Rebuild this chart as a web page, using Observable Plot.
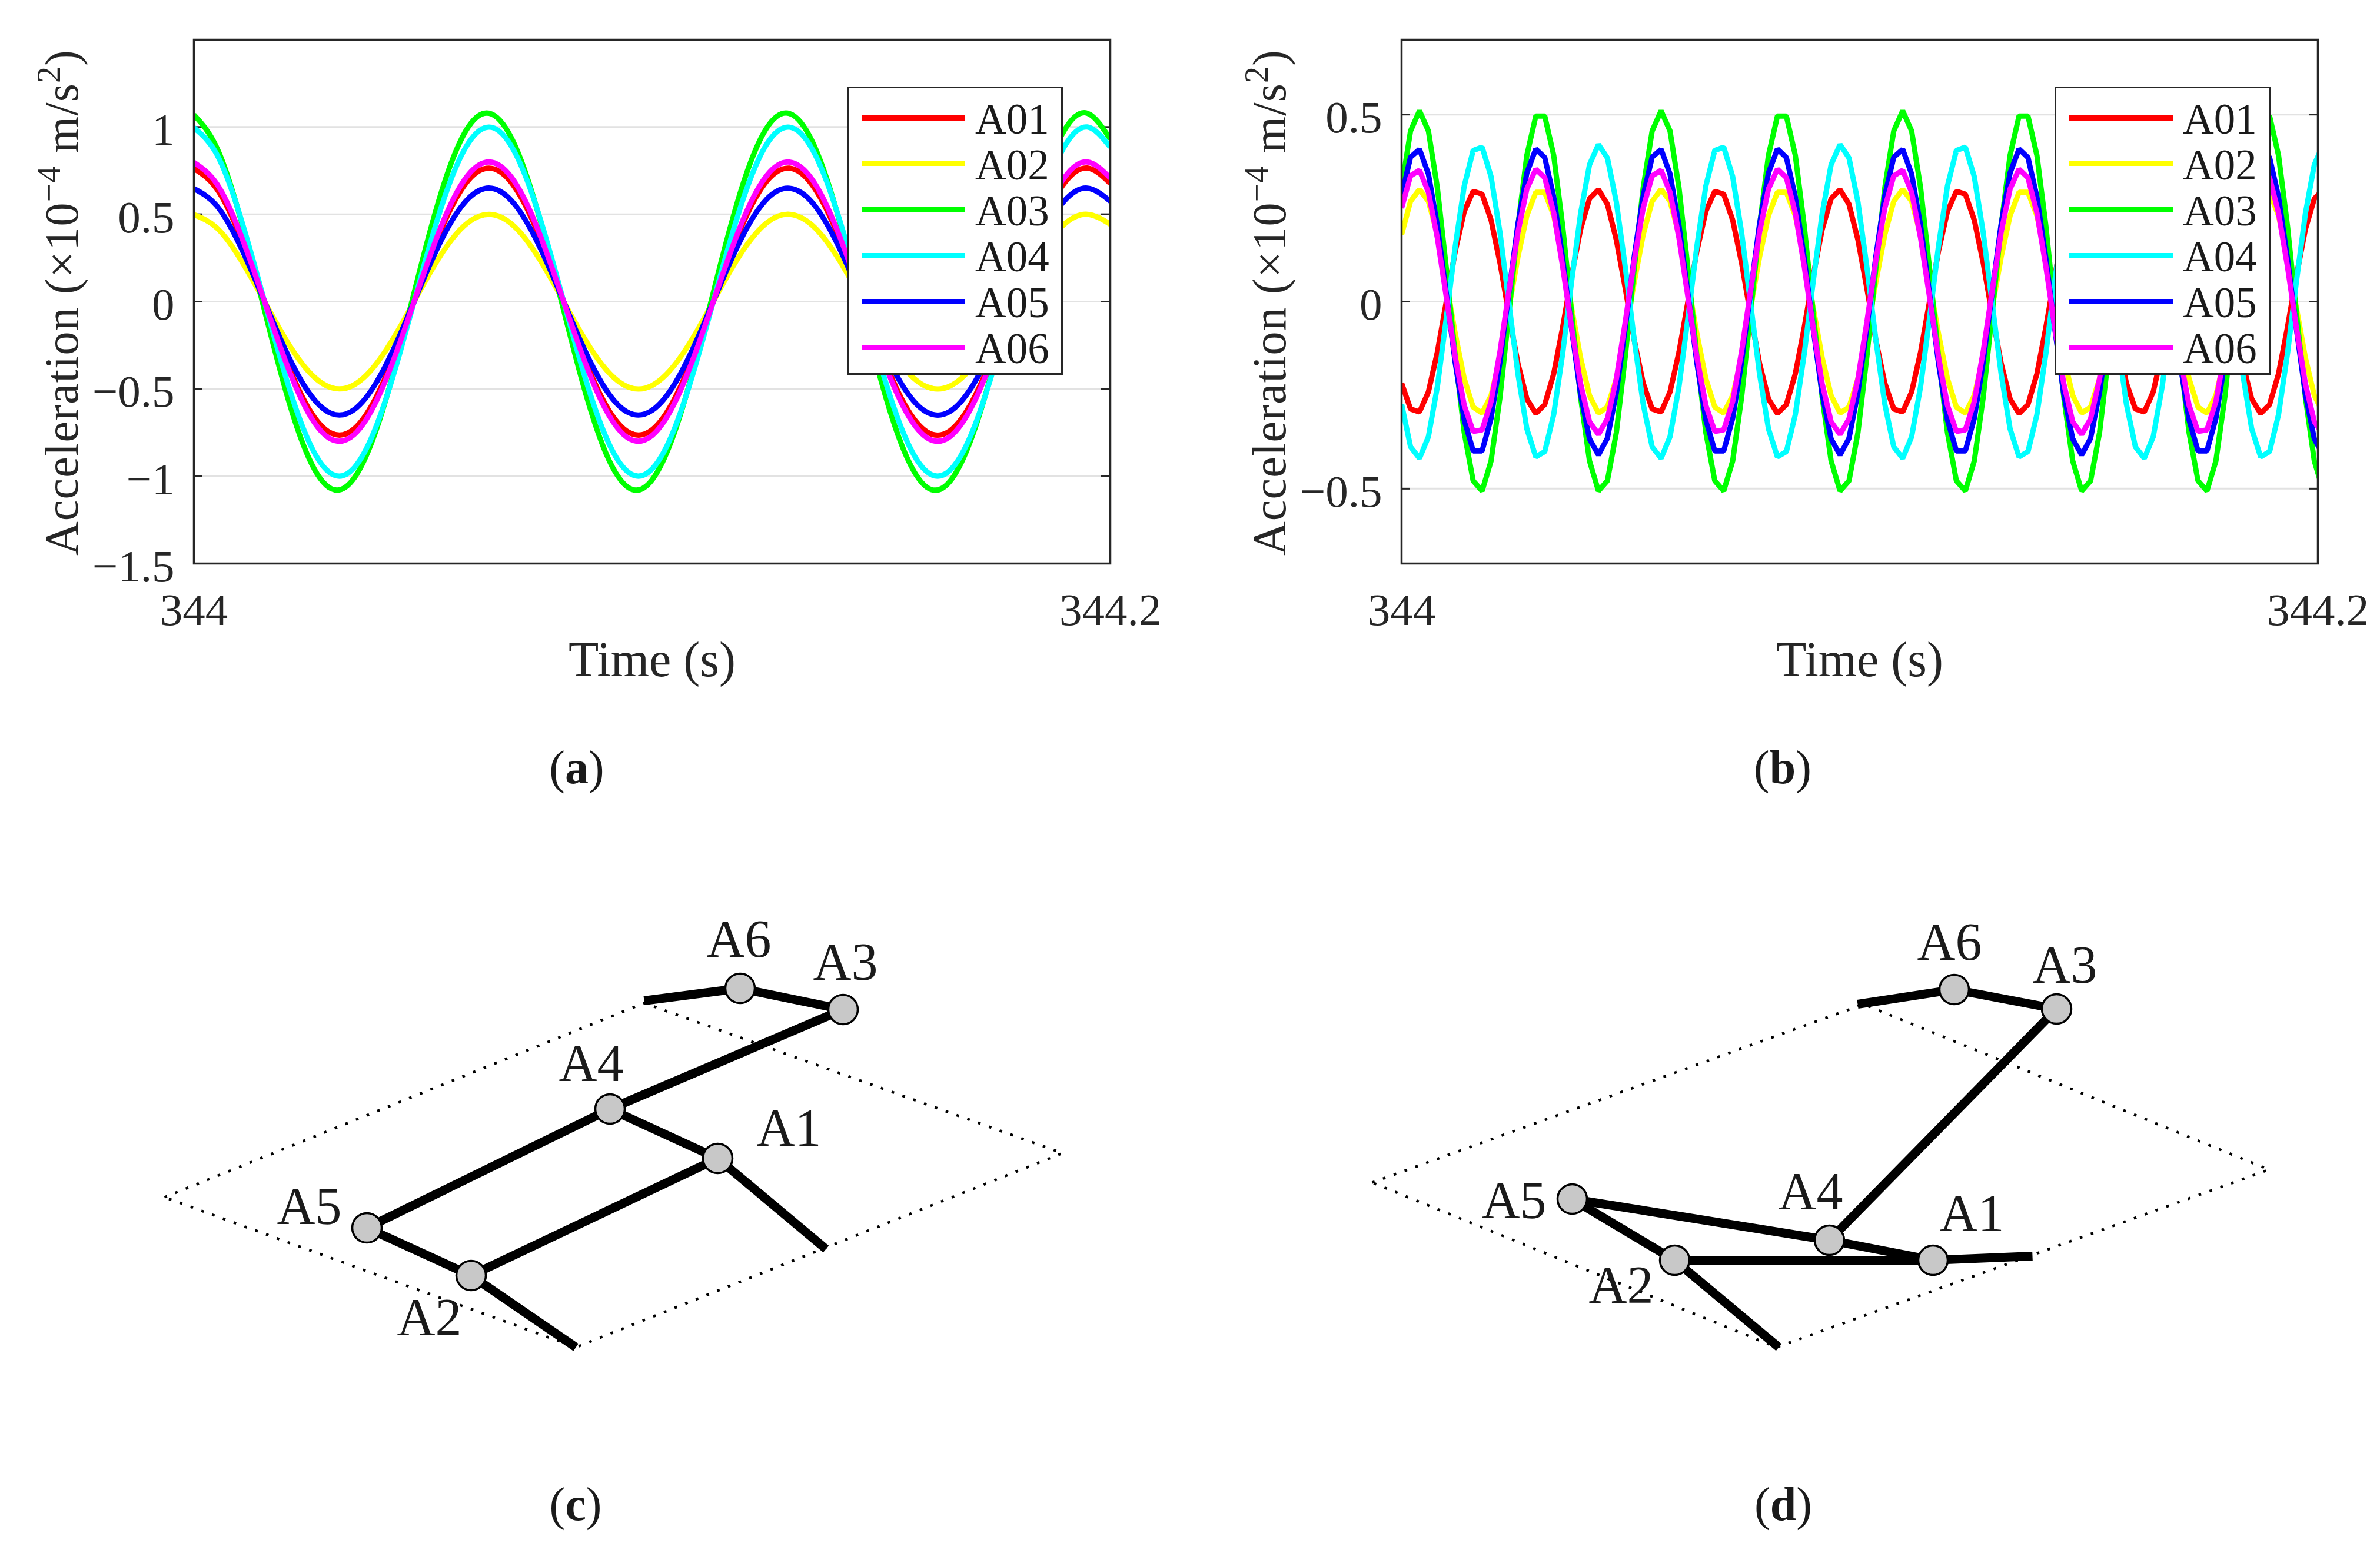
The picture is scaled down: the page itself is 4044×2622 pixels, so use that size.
<!DOCTYPE html>
<html>
<head>
<meta charset="utf-8">
<script src="https://cdn.jsdelivr.net/npm/d3@7"></script>
<script src="https://cdn.jsdelivr.net/npm/@observablehq/plot@0.6"></script>
<style>
html,body{margin:0;padding:0;background:#fff;}
#page{position:relative;width:4044px;height:2622px;overflow:hidden;font-family:"Liberation Serif",serif;color:#1a1a1a;}
.slot{position:absolute;}
.legend{position:absolute;box-sizing:border-box;background:#fff;border:3.5px solid #262626;}
.legend .row{position:absolute;left:0;right:0;height:78px;font-size:73px;line-height:78px;}
.legend .sw{position:absolute;height:8.5px;}
.legend .lb{position:absolute;white-space:nowrap;}
.cap{position:absolute;font-size:80px;transform:translateX(-50%);white-space:nowrap;}
.ytitle{position:absolute;font-size:80px;line-height:100px;white-space:nowrap;letter-spacing:1.2px;color:#262626;transform:translate(-50%,-50%) rotate(-90deg);}
.ytitle span{font-size:56px;position:relative;top:-30px;line-height:0;}
</style>
</head>
<body>
<div id="page"></div>
<script>
const sensors = ["A01","A02","A03","A04","A05","A06"];
const sensorColors = ["#ff0000","#ffff00","#00ff00","#00ffff","#0000ff","#ff00ff"];

// Panel (a): read every 0.005 s
const timeA = [344,344.005,344.01,344.015,344.02,344.025,344.03,344.035,344.04,344.045,344.05,344.055,344.06,344.065,344.07,344.075,344.08,344.085,344.09,344.095,344.1,344.105,344.11,344.115,344.12,344.125,344.13,344.135,344.14,344.145,344.15,344.155,344.16,344.165,344.17,344.175,344.18,344.185,344.19,344.195,344.2];
const a01 = [.762,.645,.381,.031,-.327,-.61,-.754,-.728,-.536,-.222,.142,.474,.698,.763,.656,.399,.052,-.308,-.597,-.75,-.734,-.551,-.243,.121,.457,.689,.764,.666,.417,.073,-.288,-.583,-.746,-.74,-.565,-.262,.1,.44,.679,.765,.677];
const a02 = [.498,.422,.249,.02,-.214,-.399,-.493,-.476,-.35,-.145,.093,.31,.456,.499,.429,.261,.034,-.201,-.39,-.491,-.48,-.36,-.159,.079,.299,.451,.5,.436,.273,.048,-.188,-.381,-.488,-.484,-.37,-.172,.066,.288,.444,.5,.443];
const a03 = [1.07,.881,.492,-.008,-.507,-.891,-1.072,-1.01,-.719,-.265,.251,.708,1.005,1.074,.899,.519,.023,-.48,-.873,-1.068,-1.021,-.741,-.294,.221,.686,.994,1.077,.915,.545,.052,-.454,-.855,-1.064,-1.03,-.762,-.322,.191,.662,.982,1.079,.931];
const a04 = [.996,.843,.498,.04,-.427,-.797,-.986,-.951,-.7,-.29,.186,.62,.912,.998,.857,.522,.068,-.402,-.78,-.981,-.959,-.72,-.317,.158,.597,.901,.999,.871,.545,.095,-.376,-.762,-.975,-.967,-.739,-.343,.131,.575,.888,1,.885];
const a05 = [.647,.548,.324,.026,-.278,-.518,-.641,-.618,-.455,-.189,.121,.403,.593,.649,.557,.339,.044,-.261,-.507,-.638,-.623,-.468,-.206,.103,.388,.586,.649,.566,.354,.062,-.244,-.495,-.634,-.629,-.48,-.223,.085,.374,.577,.65,.575];
const a06 = [.797,.674,.398,.032,-.342,-.638,-.789,-.761,-.56,-.232,.149,.496,.73,.798,.686,.418,.054,-.322,-.624,-.785,-.767,-.576,-.254,.126,.478,.721,.799,.697,.436,.076,-.301,-.61,-.78,-.774,-.591,-.274,.105,.46,.71,.8,.708];

// Panel (b): one value per recorded sample (1/512 s)
const b01 = [-.218,-.287,-.295,-.241,-.135,0,.135,.241,.295,.287,.218,.103,-.035,-.165,-.26,-.299,-.275,-.193,-.069,.069,.193,.275,.299,.26,.165,.035,-.103,
-.218,-.287,-.295,-.241,-.135,0,.135,.241,.295,.287,.218,.103,-.035,-.165,-.26,-.299,-.275,-.193,-.069,.069,.193,.275,.299,.26,.165,.035,-.103,
-.218,-.287,-.295,-.241,-.135,0,.135,.241,.295,.287,.218,.103,-.035,-.165,-.26,-.299,-.275,-.193,-.069,.069,.193,.275,.299,.26,.165,.035,-.103,
-.218,-.287,-.295,-.241,-.135,0,.135,.241,.295,.287,.218,.103,-.035,-.165,-.26,-.299,-.275,-.193,-.069,.069,.193,.275,.299];
const b02 = [.179,.268,.3,.268,.179,.052,-.086,-.206,-.282,-.298,-.251,-.15,-.017,.119,.23,.292,.292,.23,.119,-.017,-.15,-.251,-.298,-.282,-.206,-.086,.052,
.179,.268,.3,.268,.179,.052,-.086,-.206,-.282,-.298,-.251,-.15,-.017,.119,.23,.292,.292,.23,.119,-.017,-.15,-.251,-.298,-.282,-.206,-.086,.052,
.179,.268,.3,.268,.179,.052,-.086,-.206,-.282,-.298,-.251,-.15,-.017,.119,.23,.292,.292,.23,.119,-.017,-.15,-.251,-.298,-.282,-.206,-.086,.052,
.179,.268,.3,.268,.179,.052,-.086,-.206,-.282,-.298,-.251,-.15,-.017,.119,.23,.292,.292,.23,.119,-.017,-.15,-.251,-.298];
const b03 = [.304,.456,.51,.456,.304,.089,-.146,-.35,-.479,-.506,-.426,-.255,-.03,.202,.391,.496,.496,.391,.202,-.03,-.255,-.426,-.506,-.479,-.35,-.146,.089,
.304,.456,.51,.456,.304,.089,-.146,-.35,-.479,-.506,-.426,-.255,-.03,.202,.391,.496,.496,.391,.202,-.03,-.255,-.426,-.506,-.479,-.35,-.146,.089,
.304,.456,.51,.456,.304,.089,-.146,-.35,-.479,-.506,-.426,-.255,-.03,.202,.391,.496,.496,.391,.202,-.03,-.255,-.426,-.506,-.479,-.35,-.146,.089,
.304,.456,.51,.456,.304,.089,-.146,-.35,-.479,-.506,-.426,-.255,-.03,.202,.391,.496,.496,.391,.202,-.03,-.255,-.426,-.506];
const b04 = [-.274,-.388,-.419,-.361,-.227,-.044,.148,.309,.404,.413,.334,.184,-.005,-.193,-.34,-.415,-.401,-.302,-.139,.054,.235,.366,.42,.384,.266,.092,-.102,
-.274,-.388,-.419,-.361,-.227,-.044,.148,.309,.404,.413,.334,.184,-.005,-.193,-.34,-.415,-.401,-.302,-.139,.054,.235,.366,.42,.384,.266,.092,-.102,
-.274,-.388,-.419,-.361,-.227,-.044,.148,.309,.404,.413,.334,.184,-.005,-.193,-.34,-.415,-.401,-.302,-.139,.054,.235,.366,.42,.384,.266,.092,-.102,
-.274,-.388,-.419,-.361,-.227,-.044,.148,.309,.404,.413,.334,.184,-.005,-.193,-.34,-.415,-.401,-.302,-.139,.054,.235,.366,.42];
const b05 = [.283,.386,.407,.341,.203,.021,-.164,-.316,-.399,-.399,-.312,-.16,.026,.207,.344,.408,.385,.28,.115,-.073,-.247,-.367,-.41,-.365,-.243,-.069,.12,
.283,.386,.407,.341,.203,.021,-.164,-.316,-.399,-.399,-.312,-.16,.026,.207,.344,.408,.385,.28,.115,-.073,-.247,-.367,-.41,-.365,-.243,-.069,.12,
.283,.386,.407,.341,.203,.021,-.164,-.316,-.399,-.399,-.312,-.16,.026,.207,.344,.408,.385,.28,.115,-.073,-.247,-.367,-.41,-.365,-.243,-.069,.12,
.283,.386,.407,.341,.203,.021,-.164,-.316,-.399,-.399,-.312,-.16,.026,.207,.344,.408,.385,.28,.115,-.073,-.247,-.367,-.41];
const b06 = [.25,.336,.351,.292,.17,.012,-.148,-.277,-.347,-.343,-.267,-.133,.029,.185,.301,.354,.331,.237,.094,-.07,-.219,-.321,-.355,-.313,-.206,-.054,.11,
.25,.336,.351,.292,.17,.012,-.148,-.277,-.347,-.343,-.267,-.133,.029,.185,.301,.354,.331,.237,.094,-.07,-.219,-.321,-.355,-.313,-.206,-.054,.11,
.25,.336,.351,.292,.17,.012,-.148,-.277,-.347,-.343,-.267,-.133,.029,.185,.301,.354,.331,.237,.094,-.07,-.219,-.321,-.355,-.313,-.206,-.054,.11,
.25,.336,.351,.292,.17,.012,-.148,-.277,-.347,-.343,-.267,-.133,.029,.185,.301,.354,.331,.237,.094,-.07,-.219,-.321,-.355];

const yTicksA = [-1.5,-1,-0.5,0,0.5,1];
const yTicksB = [-0.5,0,0.5];
const xTicks = [344,344.2];

// Mode-shape sketches
const nodeNames = ["A1","A2","A3","A4","A5","A6"];
const nodeXC = [1219,800,1432,1036,623,1257];
const nodeYC = [1968,2167,1715,1884,2086,1679];
const labelXC = [1340,729,1436,1004,525,1255];
const labelYC = [1946,2268,1664,1836,2079,1625];
const endXC = [1094,1403,978];
const endYC = [1700,2122,2289];
const planXC = [279,1094,1805,978,279];
const planYC = [2034,1704,1959,2289,2034];

const nodeXD = [3284,2845,3494,3108,2671,3320];
const nodeYD = [2141,2141,1714,2107,2037,1681];
const labelXD = [3350,2754,3508,3076,2572,3312];
const labelYD = [2091,2213,1669,2054,2069,1630];
const endXD = [3156,3453,3022];
const endYD = [1706,2134,2289];
const planXD = [2331,3166,3855,3018,2331];
const planYD = [2009,1706,1987,2289,2009];

// Members: indices into nodes (0-5) then ends (6-8)
const memberFrom = [6,5,2,3,4,1,3,0,0];
const memberTo   = [5,2,3,4,1,8,0,1,7];

const page = document.getElementById("page");
const inkColor = "#262626";
const panelFont = "'Liberation Serif',serif";

function longForm(times, series){
  return series.flatMap((vals,i)=>vals.map((v,k)=>({sensor:sensors[i],t:times[k],v})));
}

function timePanel({left,frameL,frameR,times,series,domainY,ticksY,curve,legendL}){
  const W=2022,H=1400,frameT=67,frameB=957;
  const tickLen=(344.2-344)*15/(frameR-frameL);
  const chart=Plot.plot({
    width:W,height:H,
    marginLeft:frameL-left,marginRight:left+W-frameR,marginTop:frameT,marginBottom:H-frameB,
    style:{fontFamily:panelFont,background:"transparent",color:inkColor},
    x:{domain:[344,344.2]},
    y:{domain:domainY},
    color:{domain:sensors,range:sensorColors},
    marks:[
      Plot.gridY(ticksY,{stroke:"#e2e2e2",strokeOpacity:1,strokeWidth:3}),
      Plot.ruleY(ticksY,{x1:344,x2:344+tickLen,stroke:inkColor,strokeWidth:3}),
      Plot.ruleY(ticksY,{x1:344.2-tickLen,x2:344.2,stroke:inkColor,strokeWidth:3}),
      Plot.axisY(ticksY,{tickSize:0,tickPadding:33,label:null,fontSize:77,dy:6,tickFormat:d3.format(".1~f")}),
      Plot.axisX(xTicks,{tickSize:0,tickPadding:50,fontSize:77,label:"Time (s)",labelAnchor:"center",labelArrow:"none",labelOffset:191,tickFormat:d=>String(d)}),
      Plot.line(longForm(times,series),{x:"t",y:"v",stroke:"sensor",strokeWidth:9,curve,clip:true,strokeLinecap:"butt",strokeLinejoin:"miter"}),
      Plot.frame({stroke:inkColor,strokeWidth:3.5})
    ]
  });
  // the x axis title is larger than its tick labels
  d3.select(chart).selectAll("text").filter(function(){return this.textContent==="Time (s)";}).attr("font-size",84).style("font-size","84px");
  const slot=document.createElement("div");
  slot.className="slot";
  slot.style.left=left+"px"; slot.style.top="0px";
  slot.appendChild(chart);
  page.appendChild(slot);

  // y title with true superscripts
  const title=document.createElement("div");
  title.className="ytitle";
  title.style.left=(frameL-224)+"px";
  title.style.top="514px";
  title.innerHTML="Acceleration (×10<span>−4</span> m/s<span>2</span>)";
  page.appendChild(title);

  // legend box
  const box=document.createElement("div");
  box.className="legend";
  box.style.left=legendL+"px"; box.style.top="147px"; box.style.width="367px"; box.style.height="490px";
  sensors.forEach((s,i)=>{
    const row=document.createElement("div");
    row.className="row";
    row.style.top=(11+i*77.9)+"px";
    row.innerHTML=`<div class="sw" style="left:22px;width:176px;top:35px;background:${sensorColors[i]}"></div><div class="lb" style="left:215px;top:3px">${s}</div>`;
    box.appendChild(row);
  });
  page.appendChild(box);
}

function sketchPanel({x0,nodeX,nodeY,labelX,labelY,endX,endY,planX,planY}){
  const W=2022,H=1222;
  const px=[...nodeX,...endX], py=[...nodeY,...endY];
  const members=memberFrom.map((f,i)=>({x1:px[f],y1:py[f],x2:px[memberTo[i]],y2:py[memberTo[i]]}));
  const nodes=nodeNames.map((n,i)=>({n,x:nodeX[i],y:nodeY[i],lx:labelX[i],ly:labelY[i]}));
  const plan=planX.map((x,i)=>({x,y:planY[i]}));
  const chart=Plot.plot({
    width:W,height:H,margin:0,
    style:{fontFamily:panelFont,background:"transparent",color:"#1a1a1a"},
    x:{domain:[x0,x0+W],range:[0,W],axis:null},
    y:{domain:[1400,2622],range:[0,H],axis:null},
    marks:[
      Plot.line(plan,{x:"x",y:"y",stroke:"#000",strokeWidth:4.5,strokeDasharray:"4.5 15",strokeLinecap:"butt"}),
      Plot.link(members,{x1:"x1",y1:"y1",x2:"x2",y2:"y2",stroke:"#000",strokeWidth:15,strokeLinecap:"butt"}),
      Plot.dot(nodes,{x:"x",y:"y",r:25,fill:"#c8c8c8",stroke:"#000",strokeWidth:3.5}),
      Plot.text(nodes,{x:"lx",y:"ly",text:"n",fontSize:90,textAnchor:"middle",lineAnchor:"bottom",fill:"#1a1a1a"})
    ]
  });
  const slot=document.createElement("div");
  slot.className="slot";
  slot.style.left=x0+"px"; slot.style.top="1400px";
  slot.appendChild(chart);
  page.appendChild(slot);
}

timePanel({left:0,frameL:329,frameR:1886,times:timeA,series:[a01,a02,a03,a04,a05,a06],domainY:[-1.5,1.5],ticksY:yTicksA,curve:"natural",legendL:1439});
const timeB=d3.range(b01.length).map(k=>344+k/512);
timePanel({left:2022,frameL:2381,frameR:3938,times:timeB,series:[b01,b02,b03,b04,b05,b06],domainY:[-0.7,0.7],ticksY:yTicksB,curve:"linear",legendL:3491});

sketchPanel({x0:0,nodeX:nodeXC,nodeY:nodeYC,labelX:labelXC,labelY:labelYC,endX:endXC,endY:endYC,planX:planXC,planY:planYC});
sketchPanel({x0:2022,nodeX:nodeXD,nodeY:nodeYD,labelX:labelXD,labelY:labelYD,endX:endXD,endY:endYD,planX:planXD,planY:planYD});

[["a",980,1259],["b",3029,1259],["c",978,2511],["d",3030,2511]].forEach(([l,x,y])=>{
  const c=document.createElement("div");
  c.className="cap";
  c.style.left=x+"px"; c.style.top=y+"px";
  c.innerHTML=`(<b>${l}</b>)`;
  page.appendChild(c);
});
</script>
</body>
</html>
